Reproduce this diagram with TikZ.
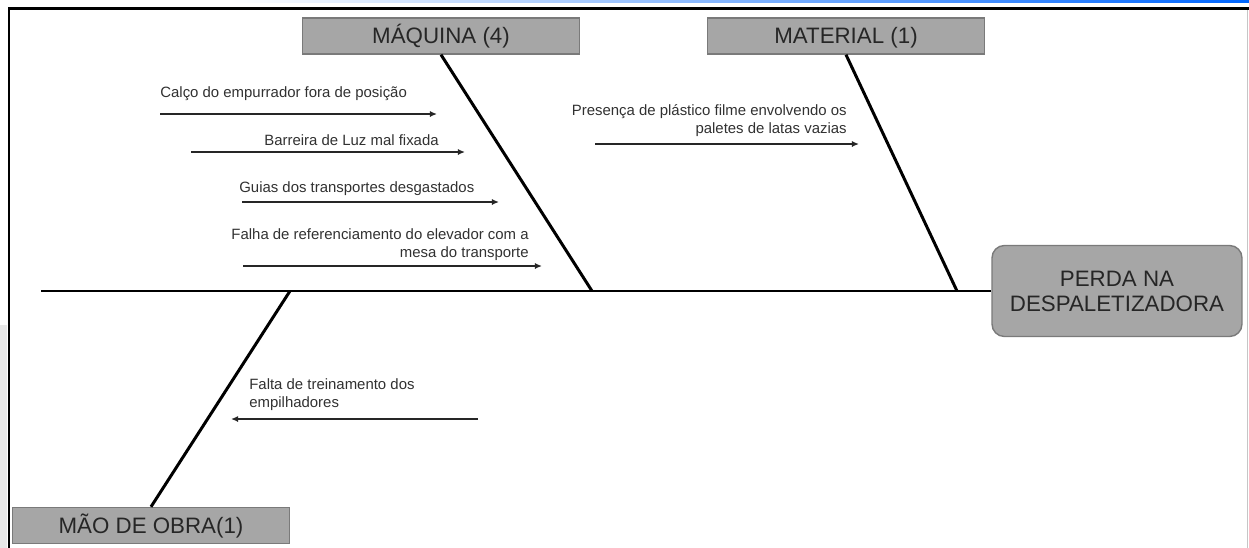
\documentclass[tikz,border=0pt]{standalone}
\usepackage{fontspec}
\setmainfont{Liberation Sans}
\usetikzlibrary{arrows.meta,positioning}
\definecolor{boxfill}{HTML}{A6A6A6}
\definecolor{boxline}{HTML}{7A7A7A}
\definecolor{txtcol}{HTML}{262626}

\begin{document}
\begin{tikzpicture}[x=0.02cm, y=-0.02cm,
  cat/.style={draw=boxline, fill=boxfill, line width=0.8pt, inner sep=0pt,
              minimum width=5.54cm, minimum height=0.72cm,
              text height=9.1pt, text depth=0pt,
              font=\fontsize{12.7}{14.2}\selectfont, text=txtcol},
  effect/.style={draw=boxline, fill=boxfill, line width=0.8pt, inner sep=0pt,
                 rounded corners=7pt, align=center,
                 minimum width=5cm, minimum height=1.82cm,
                 font=\fontsize{12.7}{14.2}\selectfont, text=txtcol},
  cause/.style={inner sep=0pt, font=\fontsize{8.5}{10.2}\selectfont, text=txtcol!95},
  bone/.style={line width=1.7pt},
  arr/.style={-{Latex[length=4pt,width=3.5pt]}, line width=1pt, black!85}]

  \useasboundingbox (0,0) rectangle (1249,548);

  % screenshot frame
  \shade[left color=white, right color=blue!60!cyan] (230,0) rectangle (1249,2.5);
  \fill[gray!18] (0,325) rectangle (7,548);
  \draw[line width=1.7pt] (8,8.5) -- (1249,8.5);
  \draw[line width=1.4pt] (9,8) -- (9,548);
  \draw[gray!45, line width=0.8pt] (1247.5,10) -- (1247.5,548);

  % head and categories
  \node[effect] (perda) at (1117,291) {PERDA NA\\DESPALETIZADORA};
  \node[cat] (maq) at (441,36) {MÁQUINA (4)};
  \node[cat] (mat) at (846,36) {MATERIAL (1)};
  \node[cat] (mao) at (151,525.5) {MÃO DE OBRA(1)};

  % spine and bones
  \coordinate (tail) at (41,291);
  \coordinate (jmaq) at (592,291);
  \coordinate (jmat) at (957,291);
  \coordinate (jmao) at (290,291);
  \draw[bone] (tail) -- (perda.west);
  \foreach \n in {maq,mat} \draw[bone] (\n.south) -- (j\n);
  \draw[bone] (mao.north) -- (jmao);

  % causes: maquina
  \node[cause, anchor=base west] (c1) at (160,97) {Calço do empurrador fora de posição};
  \coordinate (c1s) at (160,114); \coordinate (c1e) at (437,114);
  \draw[arr] (c1s) -- (c1e);

  \node[cause, anchor=base west] (c2) at (264,145) {Barreira de Luz mal fixada};
  \coordinate (c2s) at (191,152); \coordinate (c2e) at (465,152);
  \draw[arr] (c2s) -- (c2e);

  \node[cause, anchor=base west] (c3) at (239,192) {Guias dos transportes desgastados};
  \coordinate (c3s) at (242,202); \coordinate (c3e) at (499,202);
  \draw[arr] (c3s) -- (c3e);

  \node[cause, anchor=south east, align=right] (c4) at (529,261)
    {Falha de referenciamento do elevador com a\\mesa do transporte};
  \coordinate (c4s) at (243,266); \coordinate (c4e) at (542,266);
  \draw[arr] (c4s) -- (c4e);

  % causes: material
  \node[cause, anchor=south east, align=right] (c5) at (847,137)
    {Presença de plástico filme envolvendo os\\paletes de latas vazias};
  \coordinate (c5s) at (595,144); \coordinate (c5e) at (859,144);
  \draw[arr] (c5s) -- (c5e);

  % causes: mao de obra
  \node[cause, anchor=south west, align=left] (c6) at (249,411)
    {Falta de treinamento dos\\empilhadores};
  \coordinate (c6s) at (478,419); \coordinate (c6e) at (231,419);
  \draw[arr] (c6s) -- (c6e);
\end{tikzpicture}
\end{document}
